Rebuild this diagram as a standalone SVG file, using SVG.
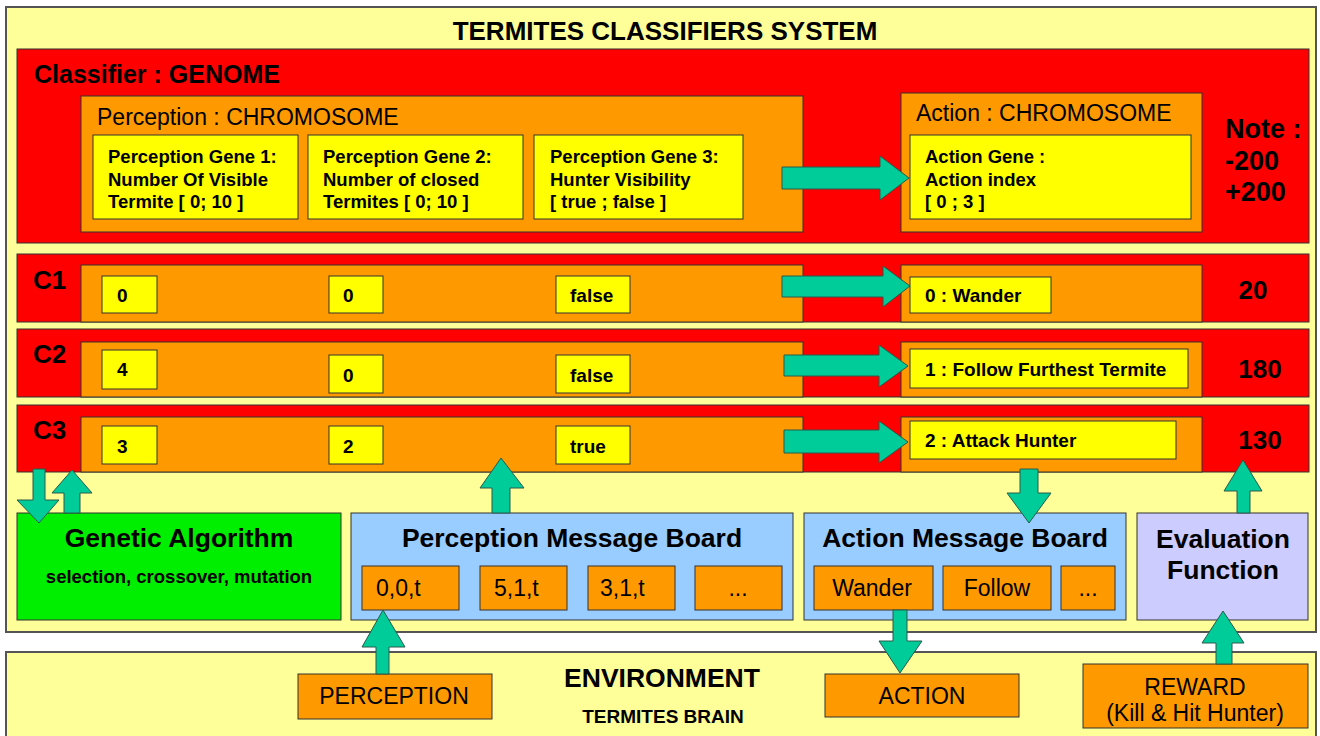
<svg xmlns="http://www.w3.org/2000/svg" width="1320" height="736" viewBox="0 0 1320 736">
  <style>
    text { font-family: "Liberation Sans", Arial, sans-serif; fill: #000; }
    .b { font-weight: bold; }
    .panel { fill: #ffff99; stroke: #555; stroke-width: 2; }
    .red { fill: #ff0000; stroke: #333; stroke-width: 1; }
    .org { fill: #ff9900; stroke: #333; stroke-width: 1; }
    .yel { fill: #ffff00; stroke: #333; stroke-width: 1; }
    .grn { fill: #00ee00; stroke: #333; stroke-width: 1; }
    .blu { fill: #99ccff; stroke: #333; stroke-width: 1; }
    .lav { fill: #ccccff; stroke: #333; stroke-width: 1; }
    .arr { fill: #00cc99; stroke: #2a5a4a; stroke-width: 1; }
    .ttl { font-size: 26.5px; font-weight: bold; }
    .gene { font-size: 18.5px; font-weight: bold; }
    .val { font-size: 19px; font-weight: bold; }
    .big { font-size: 26px; font-weight: bold; }
    .lbl { font-size: 26px; font-weight: bold; }
    .chr { font-size: 23px; }
    .msg { font-size: 23px; }
  </style>

  <rect width="1320" height="736" fill="#ffffff"/>

  <!-- system panel -->
  <g id="system">
    <rect class="panel" x="6" y="7" width="1310" height="625"/>
    <text x="665" y="40" text-anchor="middle" class="b" font-size="26">TERMITES CLASSIFIERS SYSTEM</text>
  </g>

  <!-- genome template -->
  <g id="genome">
    <rect class="red" x="17" y="49" width="1292" height="194"/>
    <text x="34" y="83" class="b" font-size="25">Classifier : GENOME</text>
    <text x="1225" y="138" class="b" font-size="27">Note :</text>
    <text x="1225" y="170" class="b" font-size="27">-200</text>
    <text x="1225" y="201" class="b" font-size="27">+200</text>
  </g>
  <g id="perception-chromosome">
    <rect class="org" x="81" y="96" width="722" height="136"/>
    <text class="chr" x="97" y="125">Perception : CHROMOSOME</text>
  </g>
  <g id="gene1">
    <rect class="yel" x="93" y="135" width="205" height="84"/>
    <text class="gene" x="108" y="163">Perception Gene 1:</text>
    <text class="gene" x="108" y="186">Number Of Visible</text>
    <text class="gene" x="108" y="208">Termite [ 0; 10 ]</text>
  </g>
  <g id="gene2">
    <rect class="yel" x="308" y="135" width="215" height="84"/>
    <text class="gene" x="323" y="163">Perception Gene 2:</text>
    <text class="gene" x="323" y="186">Number of closed</text>
    <text class="gene" x="323" y="208">Termites [ 0; 10 ]</text>
  </g>
  <g id="gene3">
    <rect class="yel" x="534" y="135" width="209" height="84"/>
    <text class="gene" x="550" y="163">Perception Gene 3:</text>
    <text class="gene" x="550" y="186">Hunter Visibility</text>
    <text class="gene" x="550" y="208">[ true ; false ]</text>
  </g>
  <g id="action-chromosome">
    <rect class="org" x="901" y="93" width="301" height="139"/>
    <text class="chr" x="916" y="121">Action : CHROMOSOME</text>
  </g>
  <g id="action-gene">
    <rect class="yel" x="910" y="135" width="281" height="84"/>
    <text class="gene" x="925" y="163">Action Gene :</text>
    <text class="gene" x="925" y="186">Action index</text>
    <text class="gene" x="925" y="208">[ 0 ; 3 ]</text>
  </g>

  <!-- classifier C1 -->
  <g id="c1">
    <rect class="red" x="17" y="254" width="1292" height="68"/>
    <text x="33" y="289" class="lbl">C1</text>
    <rect class="org" x="81" y="265" width="722" height="57"/>
    <rect class="org" x="901" y="265" width="301" height="57"/>
    <rect class="yel" x="102" y="276" width="55" height="37"/>
    <text class="val" x="117" y="302">0</text>
    <rect class="yel" x="329" y="276" width="54" height="37"/>
    <text class="val" x="343" y="302">0</text>
    <rect class="yel" x="556" y="276" width="74" height="37"/>
    <text class="val" x="570" y="302">false</text>
    <rect class="yel" x="910" y="277" width="141" height="36"/>
    <text class="val" x="925" y="302">0 : Wander</text>
    <text x="1253" y="299" text-anchor="middle" class="big">20</text>
  </g>

  <!-- classifier C2 -->
  <g id="c2">
    <rect class="red" x="17" y="329" width="1292" height="68"/>
    <text x="33" y="363" class="lbl">C2</text>
    <rect class="org" x="81" y="342" width="722" height="55"/>
    <rect class="org" x="901" y="342" width="301" height="55"/>
    <rect class="yel" x="102" y="350" width="55" height="39"/>
    <text class="val" x="117" y="376">4</text>
    <rect class="yel" x="329" y="355" width="54" height="38"/>
    <text class="val" x="343" y="382">0</text>
    <rect class="yel" x="556" y="355" width="74" height="38"/>
    <text class="val" x="570" y="382">false</text>
    <rect class="yel" x="910" y="349" width="278" height="39"/>
    <text class="val" x="925" y="376">1 : Follow Furthest Termite</text>
    <text x="1260" y="378" text-anchor="middle" class="big">180</text>
  </g>

  <!-- classifier C3 -->
  <g id="c3">
    <rect class="red" x="17" y="405" width="1292" height="67"/>
    <text x="33" y="439" class="lbl">C3</text>
    <rect class="org" x="81" y="417" width="722" height="55"/>
    <rect class="org" x="901" y="417" width="301" height="55"/>
    <rect class="yel" x="102" y="426" width="55" height="38"/>
    <text class="val" x="117" y="453">3</text>
    <rect class="yel" x="329" y="426" width="54" height="38"/>
    <text class="val" x="343" y="453">2</text>
    <rect class="yel" x="556" y="426" width="74" height="38"/>
    <text class="val" x="570" y="453">true</text>
    <rect class="yel" x="910" y="421" width="266" height="38"/>
    <text class="val" x="925" y="447">2 : Attack Hunter</text>
    <text x="1260" y="449" text-anchor="middle" class="big">130</text>
  </g>

  <!-- processing blocks -->
  <g id="genetic-algorithm">
    <rect class="grn" x="17" y="513" width="324" height="107"/>
    <text x="179" y="547" text-anchor="middle" class="ttl">Genetic Algorithm</text>
    <text x="179" y="583" text-anchor="middle" class="b" font-size="18.5">selection, crossover, mutation</text>
  </g>
  <g id="perception-board">
    <rect class="blu" x="351" y="513" width="442" height="107"/>
    <text x="572" y="547" text-anchor="middle" class="ttl">Perception Message Board</text>
    <rect class="org" x="362" y="566" width="97" height="44"/>
    <text class="msg" x="376" y="596">0,0,t</text>
    <rect class="org" x="480" y="566" width="87" height="44"/>
    <text class="msg" x="494" y="596">5,1,t</text>
    <rect class="org" x="588" y="566" width="87" height="44"/>
    <text class="msg" x="600" y="596">3,1,t</text>
    <rect class="org" x="695" y="566" width="87" height="44"/>
    <text class="msg" x="738" y="596" text-anchor="middle">...</text>
  </g>
  <g id="action-board">
    <rect class="blu" x="804" y="513" width="322" height="107"/>
    <text x="965" y="547" text-anchor="middle" class="ttl">Action Message Board</text>
    <rect class="org" x="814" y="566" width="119" height="44"/>
    <text class="msg" x="872" y="596" text-anchor="middle">Wander</text>
    <rect class="org" x="943" y="566" width="108" height="44"/>
    <text class="msg" x="997" y="596" text-anchor="middle">Follow</text>
    <rect class="org" x="1061" y="566" width="54" height="44"/>
    <text class="msg" x="1088" y="596" text-anchor="middle">...</text>
  </g>
  <g id="evaluation">
    <rect class="lav" x="1137" y="513" width="171" height="107"/>
    <text x="1223" y="548" text-anchor="middle" class="ttl">Evaluation</text>
    <text x="1223" y="579" text-anchor="middle" class="ttl">Function</text>
  </g>

  <!-- environment panel -->
  <g id="environment">
    <rect class="panel" x="6" y="652" width="1310" height="100"/>
    <text x="662" y="687" text-anchor="middle" class="b" font-size="26.5">ENVIRONMENT</text>
    <text x="663" y="723" text-anchor="middle" class="b" font-size="19">TERMITES BRAIN</text>
  </g>
  <g id="perception-io">
    <rect class="org" x="298" y="674" width="194" height="45"/>
    <text x="394" y="704" text-anchor="middle" font-size="23">PERCEPTION</text>
  </g>
  <g id="action-io">
    <rect class="org" x="825" y="674" width="194" height="43"/>
    <text x="922" y="704" text-anchor="middle" font-size="23">ACTION</text>
  </g>
  <g id="reward-io">
    <rect class="org" x="1083" y="664" width="225" height="64"/>
    <text x="1195" y="695" text-anchor="middle" font-size="23">REWARD</text>
    <text x="1195" y="721" text-anchor="middle" font-size="23">(Kill &amp; Hit Hunter)</text>
  </g>

  <!-- block arrows -->
  <g id="connectors">
    <polygon class="arr" points="782,167 880,167 880,156 909,178 880,200 880,189 782,189"/>
    <polygon class="arr" points="782,276 883,276 883,266 910,286 883,307 883,297 782,297"/>
    <polygon class="arr" points="784,355 879,355 879,345 908,366 879,387 879,376 784,376"/>
    <polygon class="arr" points="784,430 879,430 879,421 908,442 879,463 879,453 784,453"/>
    <polygon class="arr" points="33,469 45,469 45,500 59,500 39,523 17,500 33,500"/>
    <polygon class="arr" points="64,513 64,493 52,493 72,470 92,493 80,493 80,513"/>
    <polygon class="arr" points="492,513 492,488 480,488 501,458 524,488 510,488 510,513"/>
    <polygon class="arr" points="1020,469 1038,469 1038,493 1051,493 1029,523 1007,493 1020,493"/>
    <polygon class="arr" points="1237,513 1237,491 1224,491 1243,460 1262,491 1250,491 1250,513"/>
    <polygon class="arr" points="376,674 376,647 362,647 383,610 405,647 389,647 389,674"/>
    <polygon class="arr" points="893,610 907,610 907,641 922,641 900,673 879,641 893,641"/>
    <polygon class="arr" points="1216,664 1216,643 1202,643 1223,611 1244,643 1232,643 1232,664"/>
  </g>
</svg>
